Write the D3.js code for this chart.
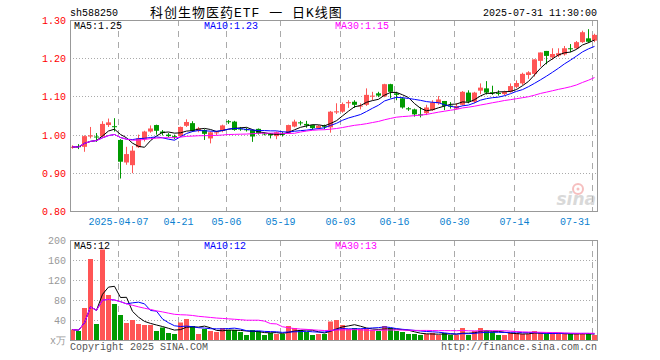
<!DOCTYPE html>
<html>
<head>
<meta charset="utf-8">
<script src="https://cdn.jsdelivr.net/npm/d3@7"></script>
<style>
  body { margin: 0; background: #fff; }
  svg text { font-family: "Liberation Mono", "DejaVu Sans Mono", monospace; }
</style>
</head>
<body>
<div id="chart"></div>
<script>
// trading days shown (2025)
const dates = [
  "03-25","03-26","03-27","03-28","03-31","04-01","04-02","04-03",
  "04-07","04-08","04-09","04-10","04-11","04-14","04-15","04-16","04-17","04-18",
  "04-21","04-22","04-23","04-24","04-25","04-28","04-29","04-30",
  "05-06","05-07","05-08","05-09","05-12","05-13","05-14","05-15","05-16",
  "05-19","05-20","05-21","05-22","05-23","05-26","05-27","05-28","05-29","05-30",
  "06-03","06-04","06-05","06-06","06-09","06-10","06-11","06-12","06-13",
  "06-16","06-17","06-18","06-19","06-20","06-23","06-24","06-25","06-26","06-27",
  "06-30","07-01","07-02","07-03","07-04","07-07","07-08","07-09","07-10","07-11",
  "07-14","07-15","07-16","07-17","07-18","07-21","07-22","07-23","07-24","07-25",
  "07-28","07-29","07-30","07-31"
];
const open = [
  0.966,0.970,0.968,0.995,0.995,0.995,1.025,1.022,
  0.986,0.927,0.920,0.967,0.988,1.008,1.025,1.008,1.000,0.996,
  0.996,1.023,1.030,1.010,1.012,0.990,1.004,1.010,
  1.035,1.034,1.016,1.014,1.012,1.015,1.003,1.003,0.996,
  1.002,1.003,1.021,1.032,1.028,1.025,1.017,1.023,1.019,1.058,
  1.060,1.082,1.086,1.074,1.078,1.100,1.108,1.100,1.132,
  1.108,1.095,1.069,1.066,1.053,1.056,1.064,1.082,1.088,1.076,
  1.068,1.078,1.110,1.086,1.115,1.121,1.111,1.109,1.106,1.112,
  1.125,1.134,1.156,1.159,1.193,1.219,1.202,1.207,1.210,1.226,
  1.226,1.242,1.252,1.246
];
const high = [
  0.972,0.975,0.998,1.020,1.004,1.035,1.042,1.043,
  0.988,0.968,0.970,1.000,1.010,1.024,1.026,1.012,1.004,1.000,
  1.021,1.040,1.035,1.020,1.014,1.008,1.010,1.026,
  1.038,1.036,1.020,1.018,1.014,1.016,1.006,1.004,1.008,
  1.008,1.026,1.039,1.036,1.036,1.026,1.025,1.026,1.062,1.082,
  1.084,1.090,1.090,1.082,1.121,1.112,1.112,1.133,1.133,
  1.112,1.098,1.072,1.068,1.072,1.078,1.090,1.101,1.088,1.085,
  1.082,1.114,1.116,1.112,1.134,1.140,1.128,1.116,1.115,1.134,
  1.142,1.162,1.166,1.197,1.215,1.219,1.226,1.226,1.232,1.237,
  1.245,1.272,1.276,1.264
];
const low = [
  0.963,0.962,0.955,0.990,0.981,0.993,1.020,1.008,
  0.885,0.921,0.899,0.965,0.982,1.005,1.000,0.998,0.993,0.988,
  0.994,1.020,1.007,1.006,0.986,0.977,0.998,1.006,
  1.028,1.010,1.010,1.008,0.981,1.000,0.998,0.990,0.988,
  0.995,1.002,1.019,1.024,1.018,1.012,1.014,1.014,1.005,1.054,
  1.057,1.070,1.070,1.066,1.075,1.090,1.098,1.098,1.095,
  1.090,1.068,1.062,1.047,1.045,1.051,1.062,1.078,1.064,1.068,
  1.066,1.076,1.082,1.082,1.106,1.105,1.104,1.102,1.103,1.110,
  1.121,1.130,1.146,1.152,1.178,1.184,1.196,1.203,1.207,1.216,
  1.224,1.240,1.240,1.242
];
const close = [
  0.968,0.967,0.996,0.998,0.993,1.028,1.032,1.020,
  0.929,0.949,0.958,0.990,1.008,1.016,1.010,1.004,0.996,0.993,
  1.020,1.033,1.010,1.016,1.002,1.006,1.006,1.024,
  1.033,1.012,1.014,1.012,0.995,1.003,1.001,0.998,1.006,
  1.000,1.025,1.034,1.030,1.024,1.017,1.023,1.021,1.060,1.061,
  1.080,1.085,1.078,1.076,1.104,1.102,1.102,1.132,1.112,
  1.104,1.071,1.066,1.053,1.051,1.071,1.084,1.092,1.075,1.074,
  1.075,1.112,1.086,1.110,1.123,1.110,1.109,1.107,1.112,1.127,
  1.135,1.159,1.163,1.197,1.215,1.206,1.211,1.213,1.226,1.224,
  1.242,1.268,1.243,1.261
];
// volume, 万手
const volume = [
  21,18,64,162,32,181,90,72,
  50,34,40,32,30,30,18,25,14,12,
  35,42,28,12,22,18,16,24,
  20,20,16,10,20,18,10,14,12,
  12,28,24,20,16,10,12,12,37,40,
  30,22,24,22,22,20,18,28,24,
  18,16,12,12,10,12,14,10,14,10,
  10,24,10,18,24,18,16,10,10,14,
  14,12,12,18,14,12,13,12,12,12,
  12,14,12,10
];
const priceTicks = [0.80, 0.90, 1.00, 1.10, 1.20, 1.30];
const volTicks = [0, 40, 80, 120, 160, 200];
const dateTicks = ["04-07","04-21","05-06","05-19","06-03","06-16","06-30","07-14","07-31"];
const dateTickLabels = ["2025-04-07","04-21","05-06","05-19","06-03","06-16","06-30","07-14","07-31"];
const maPeriods = [5, 10, 30];
const maColors = ["#000000", "#0000ff", "#ff00ff"];

const W = 660, H = 360;
const red = "#ff5555", green = "#009a00";
const left = 70, right = 597;
const pTop = 20, pBot = 211, vTop = 240, vBot = 340;

const svg = d3.select("#chart").append("svg")
  .attr("width", W).attr("height", H);

const n = dates.length;
const x = d3.scaleLinear().domain([0, n - 1]).range([70, 70 + 6 * (n - 1)]);
const y = d3.scaleLinear().domain([0.8, 1.3]).range([pBot, pTop]);
const yv = d3.scaleLinear().domain([0, 200]).range([vBot, vTop]);
const bw = 5;

// moving average using what is available at the start
function ma(arr, p) {
  return arr.map((d, i) => {
    const s = arr.slice(Math.max(0, i - p + 1), i + 1);
    return d3.mean(s);
  });
}

// ----- grid -----
function grid(yScale, ticks, top, bot) {
  const g = svg.append("g");
  g.selectAll("line.h").data(ticks.slice(1, -1)).enter().append("line")
    .attr("x1", left).attr("x2", right)
    .attr("y1", d => Math.round(yScale(d)) + 0.5).attr("y2", d => Math.round(yScale(d)) + 0.5)
    .attr("stroke", "#aaa").attr("stroke-dasharray", "1,2");
  g.selectAll("line.v").data(dateTicks).enter().append("line")
    .attr("x1", d => x(dates.indexOf(d)) + 0.5).attr("x2", d => x(dates.indexOf(d)) + 0.5)
    .attr("y1", top).attr("y2", bot)
    .attr("stroke", "#aaa").attr("stroke-dasharray", "6,5");
}
grid(y, priceTicks, pTop, pBot);
grid(yv, volTicks, vTop, vBot);

// ----- sina watermark -----
const wm = svg.append("g").attr("opacity", 0.55);
wm.append("circle").attr("cx", 578).attr("cy", 189).attr("r", 5)
  .attr("fill", "none").attr("stroke", "#f08c8c").attr("stroke-width", 2);
wm.append("circle").attr("cx", 578).attr("cy", 189).attr("r", 1.5).attr("fill", "#f08c8c");
wm.append("text").attr("x", 596).attr("y", 205).attr("text-anchor", "end")
  .style("font-family", "'DejaVu Sans', sans-serif").style("font-style", "italic")
  .style("font-weight", "bold").style("font-size", "17px").attr("fill", "#bbb").text("sina");

// ----- candles -----
const idx = d3.range(n);
const cg = svg.append("g");
cg.selectAll("line").data(idx).enter().append("line")
  .attr("x1", i => x(i) + 2.5).attr("x2", i => x(i) + 2.5)
  .attr("y1", i => y(high[i])).attr("y2", i => y(low[i]))
  .attr("stroke", i => close[i] >= open[i] ? red : green);
cg.selectAll("rect").data(idx).enter().append("rect")
  .attr("x", i => x(i)).attr("width", bw)
  .attr("y", i => y(Math.max(open[i], close[i])))
  .attr("height", i => Math.max(1, Math.abs(y(open[i]) - y(close[i]))))
  .attr("fill", i => close[i] >= open[i] ? red : green);

// ----- volume bars -----
svg.append("g").selectAll("rect").data(idx).enter().append("rect")
  .attr("x", i => x(i)).attr("width", bw)
  .attr("y", i => yv(volume[i]))
  .attr("height", i => vBot - yv(volume[i]))
  .attr("fill", i => close[i] >= open[i] ? red : green);

// ----- MA lines -----
const priceMA = maPeriods.map(p => ma(close, p));
const volMA = maPeriods.map(p => ma(volume, p));
maPeriods.forEach((p, k) => {
  svg.append("path").datum(priceMA[k])
    .attr("d", d3.line().x((d, i) => x(i) + 2.5).y(d => y(d)))
    .attr("fill", "none").attr("stroke", maColors[k]).attr("stroke-width", 1);
  svg.append("path").datum(volMA[k])
    .attr("d", d3.line().x((d, i) => x(i) + 2.5).y(d => yv(d)))
    .attr("fill", "none").attr("stroke", maColors[k]).attr("stroke-width", 1);
});

// ----- frames -----
[[pTop, pBot], [vTop, vBot]].forEach(([t, b]) => {
  svg.append("rect").attr("x", left + 0.5).attr("y", t + 0.5)
    .attr("width", right - left).attr("height", b - t)
    .attr("fill", "none").attr("stroke", "#999");
});

// ----- axis labels -----
svg.append("g").selectAll("text").data(priceTicks).enter().append("text")
  .attr("x", 66).attr("y", d => y(d) + 4).attr("text-anchor", "end")
  .style("font-size", "10px").attr("fill", "#ff0000").text(d => d.toFixed(2));
svg.append("g").selectAll("text").data(volTicks.slice(1)).enter().append("text")
  .attr("x", 66).attr("y", d => yv(d) + 4).attr("text-anchor", "end")
  .style("font-size", "10px").attr("fill", "#999").text(d => d);
svg.append("text").attr("x", 66).attr("y", vBot + 4).attr("text-anchor", "end")
  .style("font-size", "10px").attr("fill", "#999").text("x万");
svg.append("g").selectAll("text").data(dateTicks).enter().append("text")
  .attr("x", (d, k) => {
    const cx = x(dates.indexOf(d)) + 0.5;
    const half = dateTickLabels[k].length * 3;
    return Math.min(cx, 590 - half);
  })
  .attr("y", 225).attr("text-anchor", "middle")
  .style("font-size", "10px").attr("fill", "#0a7fd0")
  .text((d, k) => dateTickLabels[k]);

// ----- MA legends -----
const legX = [74, 204, 335];
const f2 = d3.format(".2f"), f0 = d3.format(".0f");
maPeriods.forEach((p, k) => {
  svg.append("text").attr("x", legX[k]).attr("y", 29)
    .style("font-size", "10px").attr("fill", maColors[k])
    .text("MA" + p + ":" + f2(priceMA[k][n - 1]));
  svg.append("text").attr("x", legX[k]).attr("y", 249)
    .style("font-size", "10px").attr("fill", maColors[k])
    .text("MA" + p + ":" + f0(volMA[k][n - 1]));
});

// ----- titles -----
svg.append("text").attr("x", 70).attr("y", 16)
  .style("font-size", "10px").attr("fill", "#000").text("sh588250");
svg.append("text").attr("x", 150).attr("y", 17).attr("fill", "#000")
  .style("font-family", "'Liberation Mono', 'Noto Sans CJK SC', monospace")
  .style("font-size", "13px").style("letter-spacing", "1px")
  .text("科创生物医药ETF 一 日K线图");
svg.append("text").attr("x", 597).attr("y", 16).attr("text-anchor", "end")
  .style("font-size", "10px").attr("fill", "#000").text("2025-07-31 11:30:00");
svg.append("text").attr("x", 70).attr("y", 350)
  .style("font-size", "10px").attr("fill", "#555").text("Copyright 2025 SINA.COM");
svg.append("text").attr("x", 597).attr("y", 350).attr("text-anchor", "end")
  .style("font-size", "10px").attr("fill", "#555").text("http://finance.sina.com.cn");
</script>
</body>
</html>
